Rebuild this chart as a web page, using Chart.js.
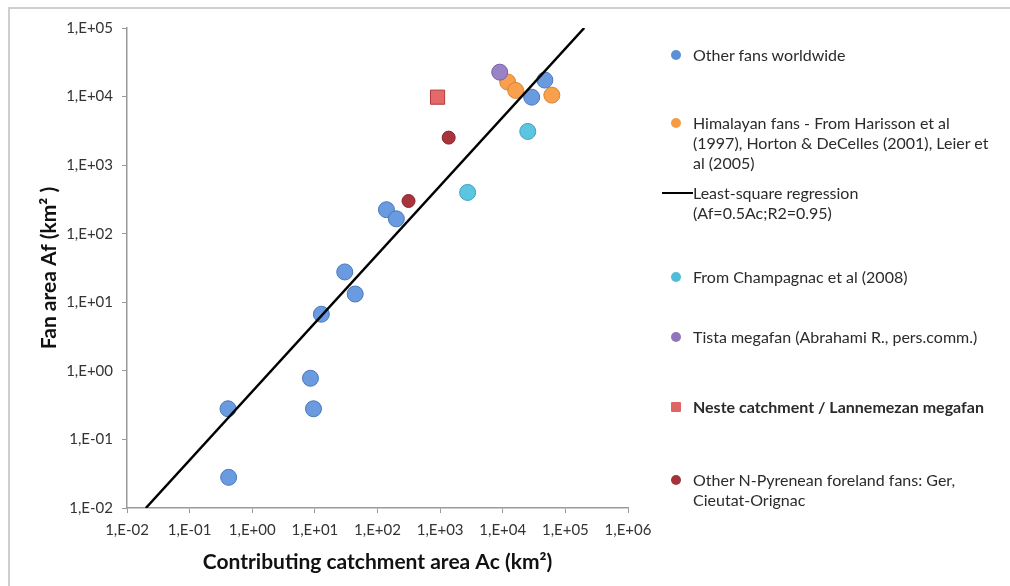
<!DOCTYPE html>
<html>
<head>
<meta charset="utf-8">
<script src="https://cdn.jsdelivr.net/npm/chart.js@4"></script>
<style>
  body { margin: 0; background: #fff; font-family: Lato, "Open Sans", sans-serif; }
  #wrap { position: relative; width: 1010px; height: 586px; }
  #frame { position: absolute; left: 8px; top: 7px; right: 0; bottom: 0;
           border-top: 2px solid #cfcfcf; border-left: 2px solid #cfcfcf; }
  #legend { position: absolute; left: 0; top: 0; }
  .item { position: absolute; left: 693px; font-size: 16px; line-height: 20px; color: #2b2b2b; white-space: nowrap; }
  .mark { position: absolute; left: -22px; top: 5px; width: 10px; height: 10px; border-radius: 50%; }
  .sq { border-radius: 1px; }
  .ln { position: absolute; left: -31px; top: 9px; width: 31px; height: 2px; background: #000; }
</style>
</head>
<body>
<div id="wrap">
  <div id="frame"></div>
  <canvas id="myChart" width="1010" height="586"></canvas>
  <div id="legend"></div>
</div>
<script>
// Each series: catchment area Ac (x), fan area Af (y), in km2
let otherAc = [0.41, 0.42, 8.5, 9.5, 12.7, 30, 44, 139, 200, 29000, 47000];
let otherAf = [0.28, 0.028, 0.78, 0.28, 6.7, 27.7, 13.2, 224, 165, 9800, 17400];

let himalAc = [12000, 16100, 60800];
let himalAf = [16300, 12300, 10500];

// regression line ends (Af = 0.5 Ac)
let regAc = [0.02, 200000];
let regAf = [0.01, 100000];

let champAc = [2750, 25100];
let champAf = [400, 3100];

let tistaAc = [8950];
let tistaAf = [22700];

let nesteAc = [910];
let nesteAf = [9800];

let pyrAc = [313, 1370];
let pyrAf = [300, 2520];

let tickValues = [0.01, 0.1, 1, 10, 100, 1000, 10000, 100000, 1000000];
let tickLabels = ['1,E-02', '1,E-01', '1,E+00', '1,E+01', '1,E+02', '1,E+03', '1,E+04', '1,E+05', '1,E+06'];

let legendItems = [
  { text: 'Other fans worldwide', color: '#5b8fd6', top: 45 },
  { text: 'Himalayan fans - From Harisson et al<br>(1997), Horton &amp; DeCelles (2001), Leier et<br>al (2005)', color: '#f59a45', top: 113 },
  { text: 'Least-square regression<br>(Af=0.5Ac;R2=0.95)', line: true, top: 183 },
  { text: 'From Champagnac et al (2008)', color: '#4fbcd8', top: 267 },
  { text: 'Tista megafan (Abrahami R., pers.comm.)', color: '#8f76bb', top: 327 },
  { text: 'Neste catchment / Lannemezan megafan', color: '#e06464', top: 397, square: true, bold: true },
  { text: 'Other N-Pyrenean foreland fans: Ger,<br>Cieutat-Orignac', color: '#a5333b', top: 470 }
];

function pts(xs, ys) {
  return xs.map((x, i) => ({ x: x, y: ys[i] }));
}

// Build the HTML legend
let legendDiv = document.getElementById('legend');
legendItems.forEach(item => {
  let d = document.createElement('div');
  d.className = 'item';
  d.style.top = item.top + 'px';
  if (item.bold) d.style.fontWeight = 'bold';
  let m = item.line ? '<span class="ln"></span>'
    : '<span class="mark' + (item.square ? ' sq' : '') + '" style="background:' + item.color + '"></span>';
  d.innerHTML = m + item.text;
  legendDiv.appendChild(d);
});

let ctx = document.getElementById('myChart');

let tickFont = { family: 'Lato', size: 15 };
let titleFont = { family: 'Lato', size: 21, weight: 'bold' };

let myChart = new Chart(ctx, {
  type: 'scatter',
  data: {
    datasets: [
      { label: 'Other fans worldwide', data: pts(otherAc, otherAf),
        backgroundColor: '#6a9be0', borderColor: '#4a78b8', borderWidth: 1,
        pointRadius: 8, order: 7 },
      { label: 'Himalayan fans', data: pts(himalAc, himalAf),
        backgroundColor: '#f9a04e', borderColor: '#d98232', borderWidth: 1,
        pointRadius: 8, order: 6 },
      { label: 'Least-square regression', data: pts(regAc, regAf),
        showLine: true, borderColor: '#000', borderWidth: 2.5,
        pointRadius: 0, order: 5 },
      { label: 'From Champagnac et al (2008)', data: pts(champAc, champAf),
        backgroundColor: '#5cc6e2', borderColor: '#3aa0bd', borderWidth: 1,
        pointRadius: 8, order: 4 },
      { label: 'Tista megafan', data: pts(tistaAc, tistaAf),
        backgroundColor: '#9a82c6', borderColor: '#7760a3', borderWidth: 1,
        pointRadius: 8, order: 3 },
      { label: 'Neste catchment', data: pts(nesteAc, nesteAf),
        pointStyle: 'rect', backgroundColor: '#e46a6a', borderColor: '#b43b3b', borderWidth: 1,
        pointRadius: 10, order: 2 },
      { label: 'Other N-Pyrenean foreland fans', data: pts(pyrAc, pyrAf),
        backgroundColor: '#a8343d', borderColor: '#85232b', borderWidth: 1,
        pointRadius: 6.5, order: 1 }
    ]
  },
  options: {
    responsive: false,
    animation: false,
    layout: { padding: { left: 0, top: 28, right: 382, bottom: 0 } },
    plugins: { legend: { display: false }, tooltip: { enabled: false } },
    scales: {
      x: {
        type: 'logarithmic', min: 0.01, max: 1000000,
        afterBuildTicks: s => { s.ticks = tickValues.map(v => ({ value: v })); },
        afterFit: s => { s.height = 78; },
        ticks: { color: '#333', font: tickFont, padding: 8, maxRotation: 0,
                 callback: (v, i) => tickLabels[i] },
        grid: { drawOnChartArea: false, tickLength: 5, color: '#9a9a9a' },
        border: { color: '#9a9a9a', width: 1.5 },
        title: { display: true, text: 'Contributing catchment area Ac (km²)', color: '#111',
                 font: titleFont, padding: { top: 0, bottom: 11 } }
      },
      y: {
        type: 'logarithmic', min: 0.01, max: 100000,
        afterBuildTicks: s => { s.ticks = tickValues.slice(0, 8).map(v => ({ value: v })); },
        afterFit: s => { s.width = 127; },
        ticks: { color: '#333', font: tickFont, padding: 9,
                 callback: (v, i) => tickLabels[i] },
        grid: { drawOnChartArea: false, tickLength: 5, color: '#9a9a9a' },
        border: { color: '#9a9a9a', width: 1.5 },
        title: { display: true, text: 'Fan area Af (km² )', color: '#111',
                 font: titleFont, padding: { top: 37, bottom: 0 } }
      }
    }
  }
});
</script>
</body>
</html>
